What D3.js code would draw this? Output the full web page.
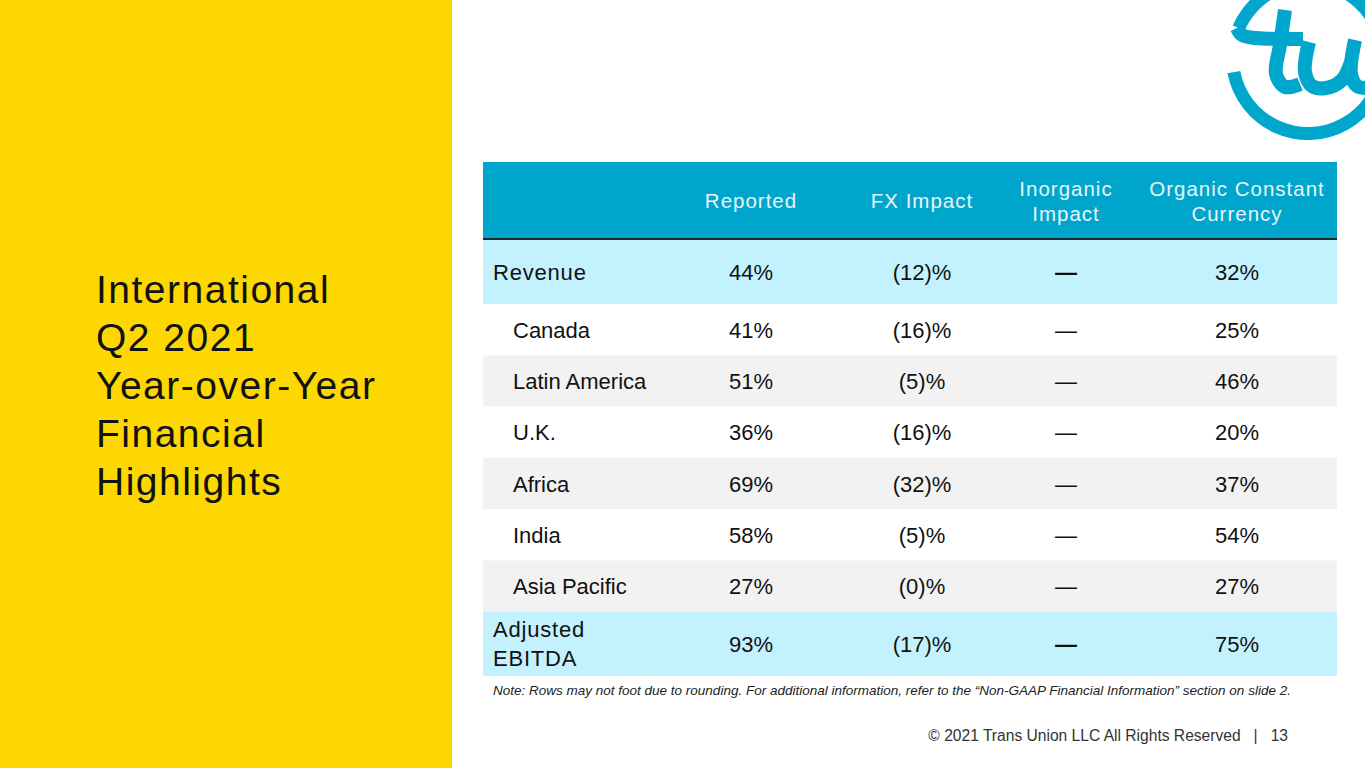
<!DOCTYPE html>
<html>
<head>
<meta charset="utf-8">
<script src="https://cdn.jsdelivr.net/npm/d3@7"></script>
<style>
	body { margin: 0; background: #fff; }
	svg { display: block; font-family: "Liberation Sans", Arial, sans-serif; }
</style>
</head>
<body>
<svg id="slide" width="1365" height="768"></svg>
<script>
// table data
var columns = ['Reported', 'FX Impact', 'Inorganic Impact', 'Organic Constant Currency'];
var columnLines = [['Reported'], ['FX Impact'], ['Inorganic', 'Impact'], ['Organic Constant', 'Currency']];
var rowLabels = ['Revenue', 'Canada', 'Latin America', 'U.K.', 'Africa', 'India', 'Asia Pacific', 'Adjusted EBITDA'];
var reported = ['44%', '41%', '51%', '36%', '69%', '58%', '27%', '93%'];
var fxImpact = ['(12)%', '(16)%', '(5)%', '(16)%', '(32)%', '(5)%', '(0)%', '(17)%'];
var inorganic = ['\u2014', '\u2014', '\u2014', '\u2014', '\u2014', '\u2014', '\u2014', '\u2014'];
var organic = ['32%', '25%', '46%', '20%', '37%', '54%', '27%', '75%'];
var rowType = ['total', 'sub', 'sub', 'sub', 'sub', 'sub', 'sub', 'total'];

window.onload = function () {
	var svg = d3.select('#slide');

	// yellow side panel
	svg.append('rect')
		.attr('x', 0).attr('y', 0)
		.attr('width', 452).attr('height', 768)
		.attr('fill', '#FCD800');

	var title = ['International', 'Q2 2021', 'Year-over-Year', 'Financial', 'Highlights'];
	svg.append('g').selectAll('text')
		.data(title)
		.enter().append('text')
		.attr('x', 96)
		.attr('y', function (d, i) { return 303 + i * 48; })
		.attr('font-size', 39)
		.attr('letter-spacing', 1.5)
		.attr('fill', '#111')
		.text(function (d) { return d; });

	// logo: circle with a cursive "tu"
	var blue = '#00A6CC';
	var logo = svg.append('g');
	logo.append('path')
		.attr('transform', 'translate(1308,58)')
		.attr('d', d3.arc()({innerRadius: 69, outerRadius: 82, startAngle: Math.PI * 1.63, endAngle: Math.PI * 3.44}))
		.attr('fill', blue);
	var pen = d3.line().curve(d3.curveCatmullRom.alpha(0.5));
	var strokes = [
		[[1237, 28], [1242, 35], [1256, 38], [1303, 39]],
		[[1285, 10], [1280, 45], [1276, 74], [1285, 87], [1300, 84]],
		[[1309, 42], [1305, 72], [1312, 86], [1326, 88], [1342, 80], [1351, 62]],
		[[1355, 40], [1351, 74], [1357, 86], [1366, 88]]
	];
	logo.selectAll('path.stroke')
		.data(strokes)
		.enter().append('path')
		.attr('class', 'stroke')
		.attr('d', pen)
		.attr('fill', 'none')
		.attr('stroke', blue)
		.attr('stroke-width', 14)
		.attr('stroke-linecap', 'butt')
		.attr('stroke-linejoin', 'round');

	// table geometry
	var left = 483, right = 1337, headTop = 162, headBottom = 239;
	var heights = rowType.map(function (t) { return t === 'total' ? 64 : 51.3; });
	var tops = [];
	heights.reduce(function (acc, h) { tops.push(acc); return acc + h; }, headBottom + 1);

	var x = d3.scaleOrdinal()
		.domain(columns)
		.range([751, 922, 1066, 1237]);

	var rowFill = function (i) {
		if (rowType[i] === 'total') return '#C3F1FD';
		return (i % 2 === 0) ? '#F2F2F2' : '#FFFFFF';
	};

	// header
	svg.append('rect')
		.attr('x', left).attr('y', headTop)
		.attr('width', right - left).attr('height', headBottom - headTop)
		.attr('fill', '#00A5CB');
	svg.append('line')
		.attr('x1', left).attr('x2', right)
		.attr('y1', headBottom).attr('y2', headBottom)
		.attr('stroke', '#1a2a33').attr('stroke-width', 2);

	var head = svg.append('g').selectAll('g')
		.data(columns)
		.enter().append('g');
	head.each(function (c, ci) {
		var lines = columnLines[ci];
		var y0 = lines.length === 1 ? 208 : 196;
		d3.select(this).selectAll('text')
			.data(lines)
			.enter().append('text')
			.attr('x', x(c))
			.attr('y', function (d, i) { return y0 + i * 25; })
			.attr('text-anchor', 'middle')
			.attr('font-size', 20.5)
			.attr('letter-spacing', 1)
			.attr('fill', '#E6F6FA')
			.text(function (d) { return d; });
	});

	// rows
	var rows = svg.append('g').selectAll('g')
		.data(rowLabels)
		.enter().append('g')
		.attr('transform', function (d, i) { return 'translate(0,' + tops[i] + ')'; });

	rows.append('rect')
		.attr('x', left).attr('y', 0)
		.attr('width', right - left)
		.attr('height', function (d, i) { return heights[i]; })
		.attr('fill', function (d, i) { return rowFill(i); });

	rows.each(function (label, i) {
		var g = d3.select(this);
		var mid = heights[i] / 2;
		var parts = label === 'Adjusted EBITDA' ? ['Adjusted', 'EBITDA'] : [label];
		g.selectAll('text.lbl')
			.data(parts)
			.enter().append('text')
			.attr('class', 'lbl')
			.attr('x', rowType[i] === 'total' ? 493 : 513)
			.attr('y', function (d, k) { return mid + 8 + (k - (parts.length - 1) / 2) * 29; })
			.attr('font-size', 22)
			.attr('letter-spacing', rowType[i] === 'total' ? 0.8 : 0)
			.attr('fill', '#111')
			.text(function (d) { return d; });

		var vals = [reported[i], fxImpact[i], inorganic[i], organic[i]];
		g.selectAll('text.val')
			.data(vals)
			.enter().append('text')
			.attr('class', 'val')
			.attr('x', function (d, k) { return x(columns[k]); })
			.attr('y', mid + 8)
			.attr('text-anchor', 'middle')
			.attr('font-size', 22)
			.attr('font-weight', function (d, k) { return (k === 2 && rowType[i] === 'total') ? 'bold' : 'normal'; })
			.attr('fill', '#111')
			.text(function (d) { return d; });
	});

	// footnote and footer
	svg.append('text')
		.attr('x', 493).attr('y', 695)
		.attr('font-size', 13.5)
		.attr('font-style', 'italic')
		.attr('fill', '#222')
		.text('Note:  Rows may not foot due to rounding. For additional information, refer to the \u201cNon-GAAP Financial Information\u201d section on slide 2.');

	svg.append('text')
		.attr('x', 1288).attr('y', 741)
		.attr('text-anchor', 'end')
		.attr('font-size', 15.6)
		.attr('fill', '#333')
		.attr('xml:space', 'preserve')
		.text('\u00a9 2021 Trans Union LLC All Rights Reserved   |   13');
};
</script>
</body>
</html>
